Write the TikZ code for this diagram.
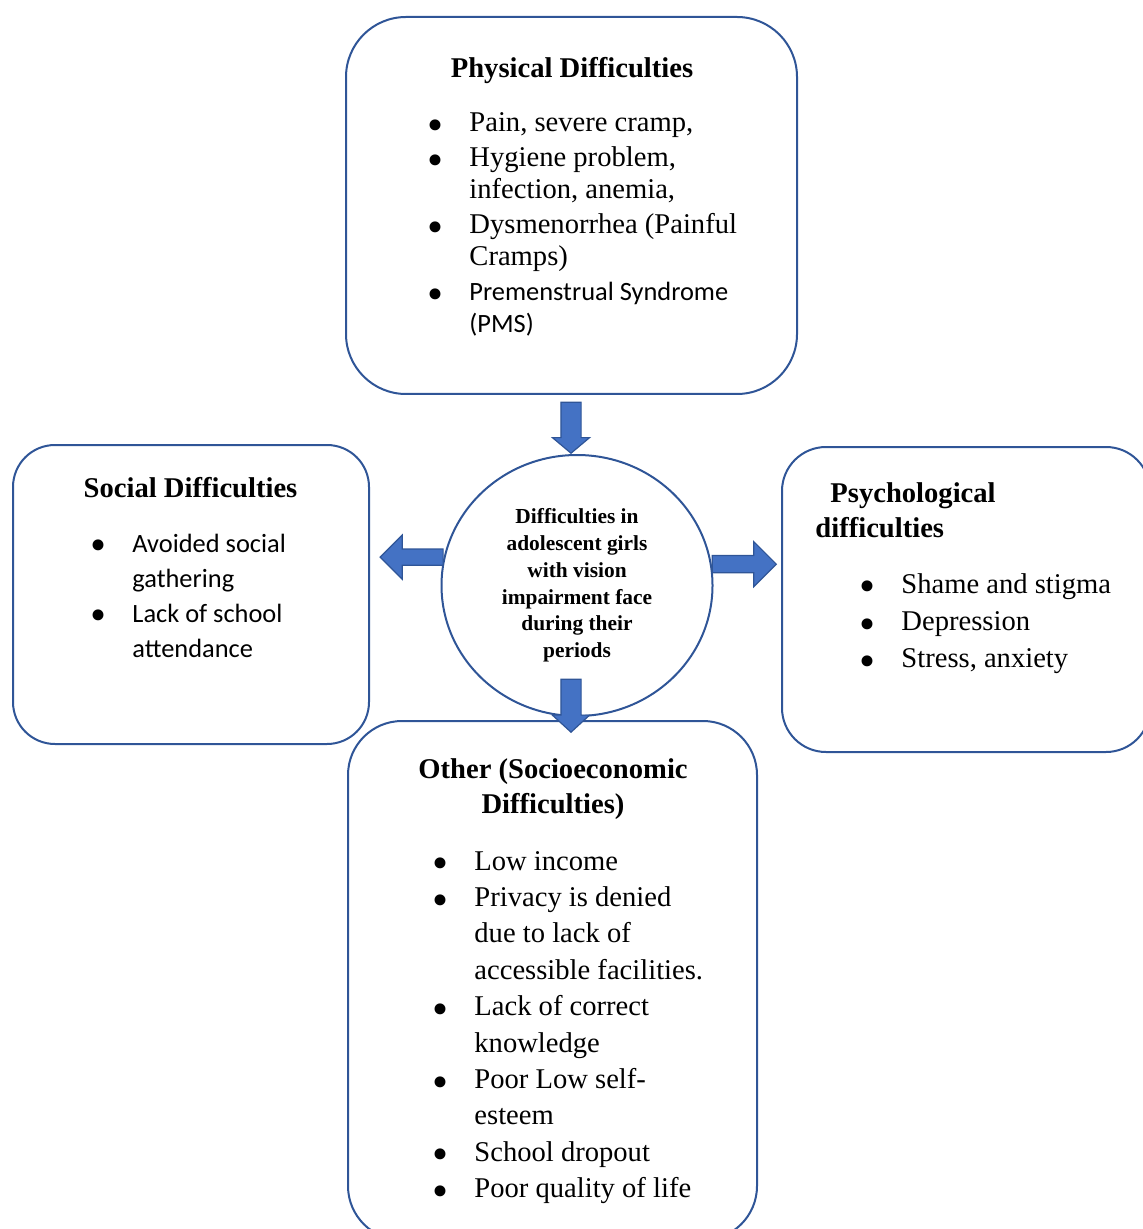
\documentclass[tikz,border=0pt]{standalone}
\usepackage{fontspec}
\setmainfont{Liberation Serif}
\newfontfamily\calibri{Carlito}
\usetikzlibrary{positioning,shapes.geometric,shapes.arrows}
\definecolor{boxline}{RGB}{47,85,151}
\definecolor{arrowfill}{RGB}{68,114,196}
\tikzset{panel/.style={draw=boxline,line width=1pt,rounded corners=30pt,inner sep=0pt},
hub node/.style={ellipse,draw=boxline,line width=1pt,inner sep=0pt,align=center,font=\fontsize{10.7}{13.4}\selectfont\bfseries},
title node/.style={anchor=base,inner sep=0pt,font=\fontsize{14.3}{17.5}\selectfont\bfseries},
list node/.style={anchor=base west,inner sep=0pt},
block arrow/.style={single arrow,fill=arrowfill,draw=boxline,line width=0.6pt},
}
\newcommand{\bul}{{\rmfamily\raisebox{-4.3pt}[6pt][0pt]{\scalebox{1.6}{\textbullet}}}}
\newcommand{\calfont}{\calibri\fontsize{13.2}{16}\selectfont}

\begin{document}
\begin{tikzpicture}[x=0.5pt,y=-0.5pt]
	\useasboundingbox (0,0) rectangle (1143,1229);
	\clip (0,0) rectangle (1143,1229);
	\node[panel,minimum width=225.5pt,minimum height=188.5pt] (phys) at (571.5,205.5) {};
	\node[panel,rounded corners=21pt,minimum width=178pt,minimum height=149.5pt] (social) at (191,594.5) {};
	\node[panel,rounded corners=22pt,minimum width=184pt,minimum height=152.5pt] (psych) at (966,599.5) {};
	\node[panel,rounded corners=27pt,minimum width=204.5pt,minimum height=259.5pt] (other) at (552.5,980.5) {};
	\node[hub node,minimum width=135.5pt,minimum height=130.5pt] (hub) at (577,585.5)
	{Difficulties in\\adolescent girls\\with vision\\impairment face\\during their\\periods};
	
	\node[title node] (phys title) at (572,78) {Physical Difficulties};
	\node[list node,font=\fontsize{14.3}{16}\selectfont] (phys list) at (427,132)
	{\begin{tabular}[t]{@{}l@{\hspace{13pt}}l@{}}
	\bul & Pain, severe cramp,\\[1.5pt]
	\bul & Hygiene problem,\\
	& infection, anemia,\\[1.5pt]
	\bul & Dysmenorrhea (Painful\\
	& Cramps)\\[1.5pt]
	\bul & {\calfont Premenstrual Syndrome}\\
	& {\calfont (PMS)}
	\end{tabular}};
	
	\node[title node] (social title) at (190.5,497) {Social Difficulties};
	\node[list node,font=\fontsize{14.3}{17.5}\selectfont] (social list) at (90,552)
	{\begin{tabular}[t]{@{}l@{\hspace{13pt}}l@{}}
	\bul & {\calfont Avoided social}\\
	& {\calfont gathering}\\
	\bul & {\calfont Lack of school}\\
	& {\calfont attendance}
	\end{tabular}};
	
	\node[title node,anchor=base west] (psych title) at (815,502)
	{\begin{tabular}[t]{@{}l@{}}
	\hspace{7.5pt}Psychological\\
	difficulties
	\end{tabular}};
	\node[list node,font=\fontsize{14.3}{18.7}\selectfont] (psych list) at (859,593)
	{\begin{tabular}[t]{@{}l@{\hspace{13pt}}l@{}}
	\bul & Shame and stigma\\
	\bul & Depression\\
	\bul & Stress, anxiety
	\end{tabular}};
	
	\node[title node] (other title) at (553,778)
	{\begin{tabular}[t]{@{}c@{}}
	Other (Socioeconomic\\
	Difficulties)
	\end{tabular}};
	\node[list node,font=\fontsize{14.3}{18.2}\selectfont] (other list) at (432,870)
	{\begin{tabular}[t]{@{}l@{\hspace{13pt}}l@{}}
	\bul & Low income\\
	\bul & Privacy is denied\\
	& due to lack of\\
	& accessible facilities.\\
	\bul & Lack of correct\\
	& knowledge\\
	\bul & Poor Low self-\\
	& esteem\\
	\bul & School dropout\\
	\bul & Poor quality of life
	\end{tabular}};
	
	\node[block arrow,shape border rotate=270,minimum height=25.5pt,inner xsep=4.75pt,inner ysep=0pt,
	single arrow head extend=4.25pt,single arrow tip angle=100,anchor=tip] (to hub) at (571,454) {};
	\node[block arrow,shape border rotate=270,minimum height=26.5pt,inner xsep=4.75pt,inner ysep=0pt,
	single arrow head extend=4.25pt,single arrow tip angle=95,anchor=tip] (to other) at (571,733) {};
	\node[block arrow,shape border rotate=180,minimum height=31.5pt,inner xsep=0pt,inner ysep=3.75pt,
	single arrow head extend=7pt,single arrow tip angle=90,anchor=tail] (to social) at (hub.168) {};
	\node[block arrow,minimum height=32pt,inner xsep=0pt,inner ysep=4pt,
	single arrow head extend=7pt,single arrow tip angle=90,anchor=tail] (to psych) at (hub.9) {};
\end{tikzpicture}
\end{document}
